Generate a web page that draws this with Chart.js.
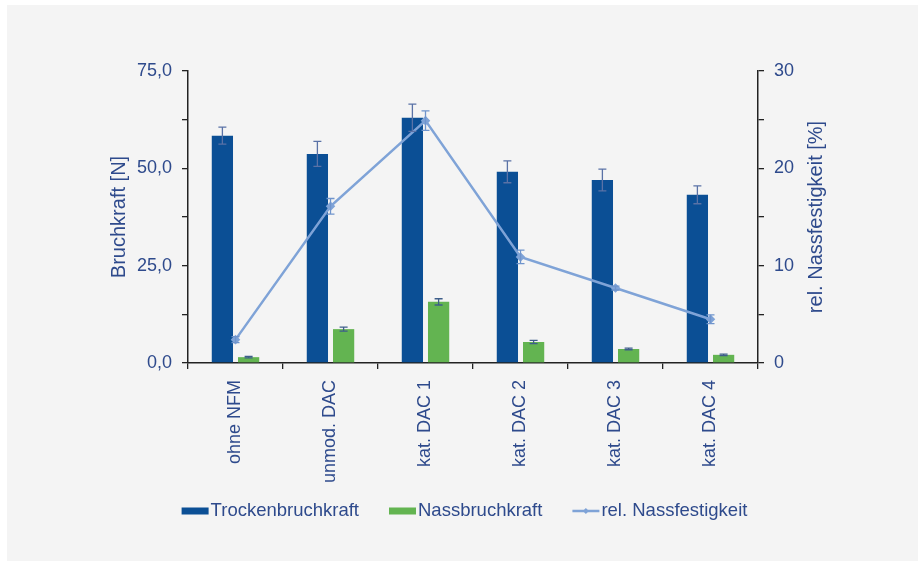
<!DOCTYPE html>
<html>
<head>
<meta charset="utf-8">
<script src="https://cdn.jsdelivr.net/npm/chart.js@4/dist/chart.umd.min.js"></script>
<style>
  html, body { margin: 0; padding: 0; background: #ffffff; }
  #wrap { position: relative; width: 923px; height: 563px; }
</style>
</head>
<body>
<div id="wrap"><canvas id="c" width="923" height="563"></canvas></div>
<script>
const categories = ['ohne NFM', 'unmod. DAC', 'kat. DAC 1', 'kat. DAC 2', 'kat. DAC 3', 'kat. DAC 4'];
const trocken = [58.4, 53.7, 63.0, 49.1, 47.0, 43.2];
const trockenErr = [2.2, 3.2, 3.5, 2.8, 2.8, 2.3];
const nass = [1.5, 8.7, 15.7, 5.4, 3.6, 2.1];
const nassErr = [0.2, 0.5, 0.8, 0.4, 0.2, 0.2];
const relNass = [2.4, 16.1, 24.9, 10.9, 7.7, 4.5];
const relNassErr = [0.3, 0.8, 1.0, 0.7, 0.2, 0.45];
const leftTicks = [0, 25, 50, 75];
const rightTicks = [0, 10, 20, 30];
const rightTitle = 'rel. Nassfestigkeit [%]';

const FONT = '"Liberation Sans", Arial, sans-serif';
const TEXT = '#2e4a8c';
const AXIS = '#222222';

const errorBars = {
  id: 'errorBars',
  afterDatasetsDraw(chart) {
    const ctx = chart.ctx;
    chart.data.datasets.forEach((ds, di) => {
      if (!ds.errors) return;
      const meta = chart.getDatasetMeta(di);
      const scale = chart.scales[meta.yAxisID];
      ctx.save();
      ctx.strokeStyle = ds.errorColor;
      ctx.lineWidth = 1.3;
      meta.data.forEach((el, i) => {
        const v = ds.data[i], e = ds.errors[i];
        const x = el.x;
        const yT = scale.getPixelForValue(v + e);
        const yB = scale.getPixelForValue(v - e);
        const cw = 4;
        ctx.beginPath();
        ctx.moveTo(x, yT); ctx.lineTo(x, yB);
        ctx.moveTo(x - cw, yT); ctx.lineTo(x + cw, yT);
        ctx.moveTo(x - cw, yB); ctx.lineTo(x + cw, yB);
        ctx.stroke();
      });
      ctx.restore();
    });
  }
};

const panel = {
  id: 'panel',
  beforeDraw(chart) {
    const ctx = chart.ctx;
    ctx.save();
    ctx.fillStyle = '#ffffff';
    ctx.fillRect(0, 0, chart.width, chart.height);
    ctx.fillStyle = '#f4f4f4';
    ctx.fillRect(7, 5, 911, 556);
    ctx.restore();
  }
};

const rightTitlePlugin = {
  id: 'rightTitle',
  afterDraw(chart) {
    const ctx = chart.ctx;
    const s = chart.scales.y1;
    ctx.save();
    ctx.font = '20px ' + FONT;
    ctx.fillStyle = TEXT;
    ctx.textAlign = 'center';
    ctx.textBaseline = 'middle';
    ctx.translate(s.right - 12, (s.top + s.bottom) / 2);
    ctx.rotate(-Math.PI / 2);
    ctx.fillText(rightTitle, 0, 0);
    ctx.restore();
  }
};

const customLegend = {
  id: 'customLegend',
  afterDraw(chart) {
    const ctx = chart.ctx;
    ctx.save();
    ctx.font = '18.5px ' + FONT;
    ctx.textBaseline = 'middle';
    const boxW = 27, gapText = 2, gapItem = 30;
    const dsList = chart.data.datasets.slice().sort((a, b) => a.legendIndex - b.legendIndex);
    const items = dsList.map(ds => ({ ds, w: boxW + gapText + ctx.measureText(ds.label).width }));
    const total = items.reduce((s, it) => s + it.w, 0) + gapItem * (items.length - 1);
    let x = 464.5 - total / 2;
    const yc = 511;
    items.forEach(it => {
      const ds = it.ds;
      if (ds.type === 'line') {
        ctx.strokeStyle = ds.borderColor;
        ctx.lineWidth = 2.5;
        ctx.beginPath(); ctx.moveTo(x, yc); ctx.lineTo(x + boxW, yc); ctx.stroke();
        ctx.fillStyle = ds.borderColor;
        ctx.beginPath();
        const cx = x + boxW / 2;
        ctx.moveTo(cx, yc - 3); ctx.lineTo(cx + 3, yc); ctx.lineTo(cx, yc + 3); ctx.lineTo(cx - 3, yc); ctx.closePath();
        ctx.fill();
      } else {
        ctx.fillStyle = ds.backgroundColor;
        ctx.fillRect(x, yc - 3.5, boxW, 7);
      }
      ctx.fillStyle = TEXT;
      ctx.fillText(ds.label, x + boxW + gapText, yc);
      x += it.w + gapItem;
    });
    ctx.restore();
  }
};

const axisGrid = { drawOnChartArea: false, drawTicks: true, tickLength: 6, color: AXIS, lineWidth: 1.3 };
const axisBorder = { display: true, color: AXIS, width: 1.5 };

new Chart(document.getElementById('c'), {
  type: 'bar',
  data: {
    labels: categories,
    datasets: [
      {
        type: 'line', label: 'rel. Nassfestigkeit', data: relNass, errors: relNassErr,
        yAxisID: 'y1', order: 0, legendIndex: 2,
        borderColor: '#7fa3d7', backgroundColor: '#7fa3d7', errorColor: '#6f94cc',
        borderWidth: 2.5, pointStyle: 'rectRot', pointRadius: 3, pointBackgroundColor: '#7fa3d7',
        tension: 0
      },
      {
        label: 'Trockenbruchkraft', data: trocken, errors: trockenErr, yAxisID: 'y', order: 1, legendIndex: 0,
        backgroundColor: '#0b4f95', errorColor: '#5a72a6',
        categoryPercentage: 0.552, barPercentage: 0.81
      },
      {
        label: 'Nassbruchkraft', data: nass, errors: nassErr, yAxisID: 'y', order: 1, legendIndex: 1,
        backgroundColor: '#63b451', errorColor: '#3e5e8a',
        categoryPercentage: 0.552, barPercentage: 0.81
      }
    ]
  },
  options: {
    responsive: false,
    animation: false,
    devicePixelRatio: 1,
    layout: { padding: { left: 103, right: 95, top: 71, bottom: 70 } },
    plugins: { legend: { display: false }, tooltip: { enabled: false } },
    scales: {
      x: {
        type: 'category', offset: true,
        grid: Object.assign({ offset: true }, axisGrid),
        border: axisBorder,
        ticks: { color: TEXT, font: { family: FONT, size: 18 }, maxRotation: 90, minRotation: 90, padding: 11, autoSkip: false },
        afterFit(s) { s.height = 130; }
      },
      y: {
        position: 'left', min: 0, max: 75,
        grid: axisGrid, border: axisBorder,
        ticks: {
          stepSize: 12.5, padding: 10, color: TEXT, font: { family: FONT, size: 18 },
          callback: v => leftTicks.includes(v) ? v.toFixed(1).replace('.', ',') : ''
        },
        title: { display: true, text: 'Bruchkraft [N]', color: TEXT, font: { family: FONT, size: 20 } },
        afterFit(s) { s.width = 85; }
      },
      y1: {
        position: 'right', min: 0, max: 30,
        grid: axisGrid, border: axisBorder,
        ticks: {
          stepSize: 5, padding: 10, color: TEXT, font: { family: FONT, size: 18 },
          callback: v => rightTicks.includes(v) ? String(v) : ''
        },
        afterFit(s) { s.width = 70; }
      }
    }
  },
  plugins: [panel, errorBars, rightTitlePlugin, customLegend]
});
</script>
</body>
</html>
